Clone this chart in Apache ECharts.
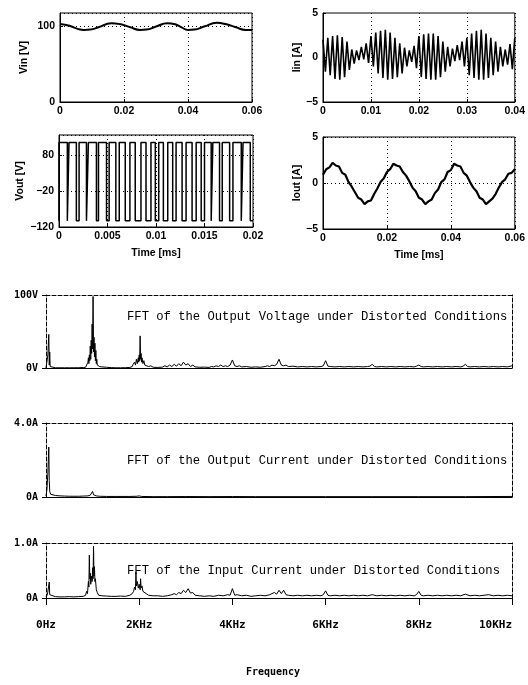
<!DOCTYPE html>
<html>
<head>
<meta charset="utf-8">
<script src="https://cdn.jsdelivr.net/npm/echarts@6/dist/echarts.min.js"></script>
<style>
html, body { margin: 0; padding: 0; background: #fff; }
#chart { width: 528px; height: 685px; }
</style>
</head>
<body>
<div id="chart"></div>
<script>
// ---- time-domain data ----
const vinTime = [0, 0.003, 0.0055, 0.0075, 0.0095, 0.012, 0.016, 0.019, 0.022, 0.025, 0.027, 0.030, 0.0335, 0.036, 0.038, 0.040, 0.042, 0.045, 0.049, 0.052, 0.055, 0.058, 0.060]
const vinVals = [103.5, 101, 97, 95.5, 96, 99, 104.5, 103, 99, 95.5, 96, 100, 104.5, 103, 99, 95.5, 96, 100, 105, 103, 99, 95.5, 95.5]

// input current, sampled every 0.5 ms
const iinStep = 0.0005
const iinVals = [
    2.0, -1.6, 2.2, -2.0, 2.4, -2.4, 2.5, -2.5, 2.3, -2.2,
    1.8, -1.4, 0.9, -0.7, 0.8, -0.3, 1.2, -0.2, 1.6, -0.6,
    2.4, -1.0, 2.8, -1.8, 3.0, -2.3, 3.1, -2.5, 2.8, -2.4,
    2.2, -2.2, 1.6, -1.8, 1.1, -1.0, 0.8, -0.5, 1.3, -1.2,
    2.4, -2.2, 2.6, -2.4, 2.7, -2.5, 2.7, -2.5, 2.4, -2.2,
    1.8, -1.6, 1.2, -1.0, 1.0, -0.4, 1.4, -0.3, 1.8, -1.0,
    2.2, -2.0, 2.7, -2.3, 3.0, -2.5, 3.1, -2.5, 2.7, -2.3,
    2.2, -2.0, 1.8, -1.6, 1.2, -1.0, 0.9, -0.8, 1.5, -1.3,
    2.2,
]

// output voltage switching edges (s) and levels (V)
const voutRise = [0, 0.00103, 0.00207, 0.00303, 0.00407, 0.00517, 0.00621, 0.00731, 0.00845, 0.00948, 0.01028, 0.01121, 0.01207, 0.0131, 0.01414, 0.015, 0.01586, 0.01683, 0.01793, 0.01897]
const voutFall = [0.00086, 0.00179, 0.00283, 0.00386, 0.0049, 0.00586, 0.00683, 0.00786, 0.00897, 0.00993, 0.01076, 0.01172, 0.01269, 0.01372, 0.01466, 0.01569, 0.01655, 0.01759, 0.01879, 0.01972]
const voutHigh = 114
const voutLow = -103

// output current, sampled every 1 ms
const ioutStep = 0.001
const ioutVals = [
    0.9, 1.5, 1.7, 2.2, 1.9, 1.8, 1.1, 0.9, 0.1, -0.4,
    -1.0, -1.6, -1.8, -2.3, -2.0, -1.9, -1.2, -0.6, 0.1, 0.5,
    1.2, 1.5, 2.1, 1.9, 1.8, 1.2, 0.8, 0.2, -0.5, -0.9,
    -1.6, -1.8, -2.3, -2.0, -1.8, -1.1, -0.7, 0.1, 0.4, 1.2,
    1.4, 2.1, 1.9, 1.8, 1.1, 0.8, 0.1, -0.5, -0.9, -1.6,
    -1.8, -2.3, -2.0, -1.7, -1.2, -0.5, 0.1, 0.4, 1.0, 1.1,
    1.5,
]

// ---- spectra: [Hz, magnitude] ----
const voutSpec = [
    [0, 0], [20, 2], [40, 18], [60, 46], [70, 4], [80, 22], [90, 2], [110, 0.5], [200, 0.3], [300, 0.3],
    [400, 0.3], [500, 0.3], [600, 0.3], [700, 0.4], [800, 0.6], [850, 1], [880, 3], [900, 8], [910, 14], [920, 6],
    [930, 18], [940, 10], [950, 30], [960, 12], [970, 38], [980, 20], [990, 60], [1000, 26], [1010, 98], [1020, 22],
    [1030, 42], [1040, 15], [1050, 34], [1060, 10], [1070, 24], [1080, 6], [1090, 12], [1100, 4], [1120, 6], [1150, 2],
    [1200, 1.5], [1300, 1], [1400, 0.5], [1500, 0.3], [1600, 0.3], [1700, 0.4], [1800, 0.8], [1850, 2], [1870, 5], [1890, 3],
    [1900, 8], [1920, 4], [1940, 12], [1960, 6], [1980, 14], [1990, 8], [2000, 18], [2010, 10], [2020, 44], [2030, 12],
    [2040, 20], [2050, 8], [2060, 14], [2080, 6], [2100, 10], [2120, 4], [2150, 6], [2200, 2], [2250, 3], [2300, 1],
    [2400, 0.8], [2500, 1.2], [2550, 3], [2600, 1.5], [2650, 4], [2700, 2], [2750, 5], [2800, 2.5], [2850, 6], [2900, 3],
    [2950, 8], [3000, 4], [3050, 6], [3100, 2], [3150, 4], [3200, 1.5], [3300, 1], [3400, 1.2], [3500, 0.8], [3550, 2],
    [3600, 1.5], [3650, 3], [3700, 2], [3750, 4], [3800, 2], [3850, 3], [3900, 2], [3950, 4], [4000, 11], [4050, 3],
    [4100, 2], [4150, 3], [4200, 1.5], [4300, 2], [4400, 1], [4500, 1.5], [4600, 1], [4700, 2], [4750, 3], [4800, 2],
    [4850, 4], [4900, 3], [4950, 5], [5000, 12], [5050, 4], [5100, 3], [5150, 4], [5200, 2], [5300, 2.5], [5400, 1.5],
    [5500, 2], [5600, 1.5], [5700, 2], [5800, 1.5], [5900, 2], [5950, 3], [6000, 10], [6050, 2.5], [6100, 2], [6200, 1.5],
    [6300, 2], [6400, 1.5], [6500, 2], [6600, 1.5], [6700, 2], [6800, 1.5], [6900, 2], [6950, 2.5], [7000, 5], [7050, 2],
    [7100, 1.5], [7200, 2], [7300, 1.5], [7400, 2], [7500, 1.5], [7600, 2], [7700, 1.5], [7800, 2], [7900, 1.5], [7950, 2.5],
    [8000, 4], [8050, 2], [8100, 1.5], [8200, 2], [8300, 1.5], [8400, 2], [8500, 1.5], [8600, 2], [8700, 1.5], [8800, 2],
    [8900, 1.5], [8950, 2.5], [9000, 5], [9050, 2], [9100, 1.5], [9200, 2], [9300, 1.5], [9400, 2], [9500, 1.5], [9600, 2],
    [9700, 1.5], [9800, 2], [9900, 1.5], [10000, 3],
]
const ioutSpec = [
    [0, 0.05], [20, 0.4], [40, 1.3], [60, 2.7], [70, 0.9], [80, 0.3], [100, 0.15], [130, 0.1], [200, 0.08], [300, 0.06],
    [400, 0.05], [500, 0.04], [600, 0.04], [700, 0.04], [800, 0.05], [900, 0.06], [950, 0.1], [980, 0.2], [1000, 0.3], [1020, 0.12],
    [1050, 0.15], [1080, 0.06], [1150, 0.04], [1300, 0.03], [1500, 0.03], [1800, 0.03], [1950, 0.04], [2000, 0.06], [2050, 0.03], [2300, 0.02],
    [2600, 0.02], [3000, 0.025], [3500, 0.02], [4000, 0.025], [4500, 0.02], [5000, 0.02], [6000, 0.02], [7000, 0.02], [8000, 0.02], [9000, 0.02],
    [10000, 0.03],
]
const iinSpec = [
    [0, 0.02], [30, 0.06], [50, 0.08], [70, 0.29], [80, 0.06], [100, 0.025], [200, 0.025], [300, 0.02], [400, 0.02], [500, 0.025],
    [600, 0.02], [700, 0.025], [800, 0.03], [850, 0.05], [870, 0.12], [890, 0.08], [910, 0.3], [920, 0.2], [930, 0.78], [940, 0.35],
    [950, 0.45], [960, 0.25], [980, 0.4], [990, 0.3], [1000, 0.55], [1010, 0.35], [1020, 0.94], [1030, 0.4], [1040, 0.57], [1050, 0.3],
    [1060, 0.35], [1080, 0.15], [1100, 0.1], [1130, 0.05], [1200, 0.04], [1300, 0.035], [1400, 0.03], [1500, 0.03], [1600, 0.035], [1700, 0.03],
    [1800, 0.05], [1850, 0.08], [1880, 0.12], [1900, 0.2], [1920, 0.15], [1930, 0.47], [1940, 0.22], [1960, 0.3], [1980, 0.18], [2000, 0.25],
    [2020, 0.15], [2030, 0.35], [2040, 0.18], [2060, 0.22], [2080, 0.12], [2100, 0.15], [2150, 0.08], [2200, 0.05], [2300, 0.04], [2400, 0.04],
    [2500, 0.03], [2600, 0.04], [2700, 0.06], [2750, 0.08], [2800, 0.06], [2850, 0.1], [2900, 0.08], [2950, 0.14], [3000, 0.1], [3050, 0.17],
    [3100, 0.09], [3150, 0.1], [3200, 0.05], [3300, 0.04], [3400, 0.03], [3500, 0.04], [3600, 0.03], [3700, 0.05], [3800, 0.04], [3900, 0.06],
    [3950, 0.05], [4000, 0.17], [4050, 0.05], [4100, 0.06], [4200, 0.04], [4300, 0.05], [4400, 0.03], [4500, 0.04], [4600, 0.05], [4700, 0.04],
    [4800, 0.06], [4850, 0.08], [4900, 0.1], [4950, 0.07], [5000, 0.14], [5050, 0.08], [5100, 0.14], [5150, 0.06], [5200, 0.05], [5300, 0.04],
    [5400, 0.05], [5500, 0.04], [5600, 0.05], [5700, 0.04], [5800, 0.05], [5900, 0.04], [5950, 0.06], [6000, 0.13], [6050, 0.05], [6100, 0.04],
    [6200, 0.05], [6300, 0.04], [6400, 0.05], [6500, 0.04], [6600, 0.05], [6700, 0.04], [6800, 0.05], [6900, 0.04], [7000, 0.06], [7100, 0.04],
    [7200, 0.05], [7300, 0.04], [7400, 0.05], [7500, 0.04], [7600, 0.05], [7700, 0.04], [7800, 0.05], [7900, 0.04], [7950, 0.06], [8000, 0.12],
    [8050, 0.05], [8100, 0.04], [8200, 0.05], [8300, 0.04], [8400, 0.05], [8500, 0.04], [8600, 0.05], [8700, 0.04], [8800, 0.05], [8900, 0.04],
    [9000, 0.07], [9100, 0.04], [9200, 0.05], [9300, 0.04], [9400, 0.05], [9500, 0.06], [9600, 0.04], [9700, 0.05], [9800, 0.04], [9900, 0.05],
    [10000, 0.04],
]

const fftTitles = [
    'FFT of the Output Voltage under Distorted Conditions',
    'FFT of the Output Current under Distorted Conditions',
    'FFT of the Input Current under Distorted Conditions',
]
const fftMax = [100, 4, 1]
const fftTopLabels = ['100V', '4.0A', '1.0A']
const fftZeroLabels = ['0V', '0A', '0A']
const freqLabels = { 0: '0Hz', 2000: '2KHz', 4000: '4KHz', 6000: '6KHz', 8000: '8KHz', 10000: '10KHz' }

// ---- styling ----
const black = '#000'
const sans = 'Liberation Sans'
const mono = 'DejaVu Sans Mono'
const minus = (v) => String(v).replace('-', '\u2212')

const grids = [
    { left: 60, top: 13, width: 192, height: 89 },   // Vin
    { left: 323, top: 13, width: 194, height: 89 },  // Iin
    { left: 59, top: 135, width: 194, height: 92 },  // Vout
    { left: 323, top: 137, width: 194, height: 92 }, // Iout
    { left: 46, top: 295, width: 466, height: 73 },  // FFT Vout
    { left: 46, top: 423, width: 466, height: 74 },  // FFT Iout
    { left: 46, top: 543, width: 466, height: 55 },  // FFT Iin
].map((g, i) => Object.assign(g, i < 4 ? { show: true, borderColor: black, borderWidth: 1 } : {}))

const tickLabel = { fontFamily: sans, fontSize: 10.5, fontWeight: 'bold', color: black }
const dotted = { show: true, lineStyle: { type: [1, 3], color: black, width: 1 } }

const topX = (gi, max, interval, name) => ({
    type: 'value', gridIndex: gi, min: 0, max, interval,
    name, nameLocation: 'middle', nameGap: 21,
    nameTextStyle: { fontFamily: sans, fontSize: 10.5, fontWeight: 'bold', color: black },
    axisLine: { onZero: false, lineStyle: { color: black } },
    axisTick: { inside: true, length: 3, lineStyle: { color: black } },
    axisLabel: Object.assign({ margin: 4, formatter: minus }, tickLabel),
    splitLine: dotted,
})
const topY = (gi, min, max, interval, name, gap, split, showMax) => ({
    type: 'value', gridIndex: gi, min, max, interval,
    name, nameLocation: 'middle', nameGap: gap, nameRotate: 90,
    nameTextStyle: { fontFamily: sans, fontSize: 10.5, fontWeight: 'bold', color: black },
    axisLine: { onZero: false, lineStyle: { color: black } },
    axisTick: { inside: true, length: 3, lineStyle: { color: black } },
    axisLabel: Object.assign({ margin: 5, formatter: minus, showMaxLabel: showMax }, tickLabel),
    splitLine: split ? dotted : { show: false },
})

const dash = { type: [4, 2], color: black, width: 1 }
const xAxes = [
    topX(0, 0.06, 0.02, ''),
    topX(1, 0.04, 0.01, ''),
    topX(2, 0.02, 0.005, 'Time [ms]'),
    topX(3, 0.06, 0.02, 'Time [ms]'),
]
const yAxes = [
    topY(0, 0, 118, 100, 'Vin [V]', 30, true, false),
    topY(1, -5, 5, 5, 'Iin [A]', 20, false, true),
    topY(2, -120, 135, 100, 'Vout [V]', 33, true, false),
    topY(3, -5, 5, 5, 'Iout [A]', 20, true, true),
]

// FFT panels: bottom + top x axes, left + right y axes
const fftAxisIdx = []
for (let k = 0; k < 3; k++) {
    const gi = 4 + k
    const last = k === 2
    const xb = xAxes.length
    xAxes.push({
        type: 'value', gridIndex: gi, min: 0, max: 10000, interval: 2000, position: 'bottom',
        axisLine: { onZero: false, lineStyle: { color: black, width: 1 } },
        axisTick: { show: last, length: 7, lineStyle: { color: black } },
        axisLabel: {
            show: last, margin: 22, fontFamily: mono, fontSize: 11, fontWeight: 'bold', color: black,
            alignMaxLabel: 'right',
            formatter: (v) => freqLabels[v] || '',
        },
        splitLine: { show: false },
    })
    xAxes.push({
        type: 'value', gridIndex: gi, min: 0, max: 10000, position: 'top',
        axisLine: { onZero: false, lineStyle: dash }, axisTick: { show: false }, axisLabel: { show: false }, splitLine: { show: false },
    })
    const yl = yAxes.length
    yAxes.push({
        type: 'value', gridIndex: gi, min: 0, max: fftMax[k], interval: fftMax[k], position: 'left',
        axisLine: { show: true, onZero: false, lineStyle: dash },
        axisTick: { show: true, length: 4, lineStyle: { color: black } },
        axisLabel: {
            margin: 8, fontFamily: mono, fontSize: 10, fontWeight: 'bold', color: black,
            formatter: (v) => (v === 0 ? fftZeroLabels[k] : fftTopLabels[k]),
        },
        splitLine: { show: false },
    })
    yAxes.push({
        type: 'value', gridIndex: gi, min: 0, max: fftMax[k], position: 'right',
        axisLine: { show: true, onZero: false, lineStyle: dash }, axisTick: { show: false }, axisLabel: { show: false }, splitLine: { show: false },
    })
    fftAxisIdx.push([xb, yl])
}

// ---- series ----
const voutData = [[0, voutLow]]
voutRise.forEach((r, i) => {
    voutData.push([r, voutLow], [r, voutHigh], [voutFall[i], voutHigh], [voutFall[i], voutLow])
})
voutData.push([0.02, voutLow])

const lineSeries = (xi, yi, data, width, extra) => Object.assign({
    type: 'line', xAxisIndex: xi, yAxisIndex: yi, data,
    showSymbol: false, symbol: 'none', animation: false,
    lineStyle: { color: black, width },
}, extra || {})

const series = [
    lineSeries(0, 0, vinTime.map((t, i) => [t, vinVals[i]]), 2, { smooth: true }),
    lineSeries(1, 1, iinVals.map((v, i) => [i * iinStep, v]), 1.6),
    lineSeries(2, 2, voutData, 1.5),
    lineSeries(3, 3, ioutVals.map((v, i) => [i * ioutStep, v]), 2.2),
    lineSeries(fftAxisIdx[0][0], fftAxisIdx[0][1], voutSpec, 1),
    lineSeries(fftAxisIdx[1][0], fftAxisIdx[1][1], ioutSpec, 1),
    lineSeries(fftAxisIdx[2][0], fftAxisIdx[2][1], iinSpec, 1),
]

const titleY = [317, 461, 571]
const graphic = fftTitles.map((t, k) => ({
    type: 'text', x: 127, y: titleY[k], silent: true,
    style: { text: t, font: '12.2px "Liberation Mono"', fill: black, align: 'left', verticalAlign: 'middle' },
}))
graphic.push({
    type: 'text', x: 273, y: 672, silent: true,
    style: { text: 'Frequency', font: 'bold 10px "DejaVu Sans Mono"', fill: black, align: 'center', verticalAlign: 'middle' },
})

const myChart = echarts.init(document.getElementById('chart'), null, { renderer: 'canvas' })
myChart.setOption({
    backgroundColor: '#fff',
    animation: false,
    grid: grids,
    xAxis: xAxes,
    yAxis: yAxes,
    series,
    graphic,
})
</script>
</body>
</html>
